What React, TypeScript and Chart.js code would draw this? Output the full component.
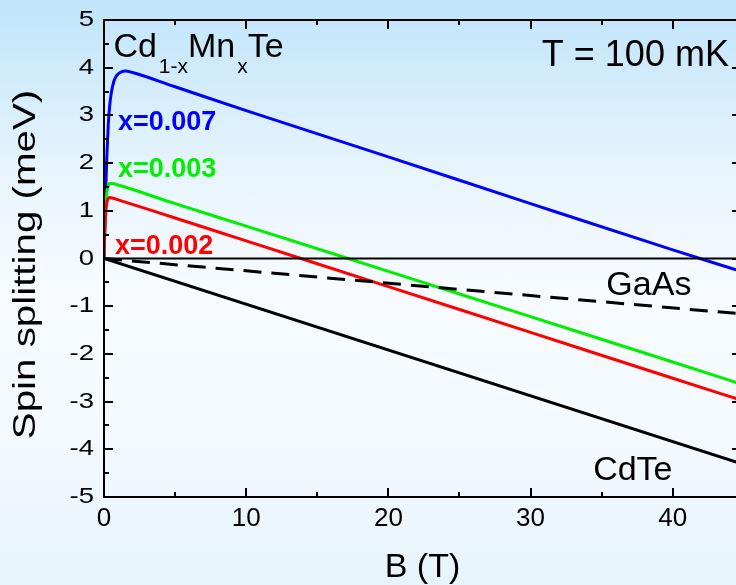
import React, { useEffect, useRef } from "react";
import { Chart, registerables } from "chart.js";

Chart.register(...registerables);

const FONT = '"Liberation Sans", Arial, Helvetica, sans-serif';

// Axis ranges and tick steps
const X_MIN = 0;
const X_MAX = 44.8;
const Y_MIN = -5;
const Y_MAX = 5;
const X_MAJOR = 10;
const X_MINOR = 5;
const Y_MAJOR = 1;
const Y_MINOR = 0.5;

// x = 0.007 (blue)
const bBlue = [0, 0.05, 0.1, 0.15, 0.2, 0.3, 0.4, 0.5, 0.7, 0.9, 1.2, 1.5, 2, 5, 10, 20, 30, 40, 44.8];
const sBlue = [0, 0.6, 1.2, 1.7, 2.15, 2.8, 3.2, 3.45, 3.72, 3.84, 3.91, 3.93, 3.9, 3.6, 3.1, 2.13, 1.15, 0.18, -0.27];

// x = 0.003 (green)
const bGreen = [0, 0.05, 0.1, 0.15, 0.2, 0.3, 0.4, 0.6, 1, 5, 10, 20, 30, 40, 44.8];
const sGreen = [0, 0.55, 0.95, 1.2, 1.38, 1.52, 1.57, 1.57, 1.54, 1.15, 0.68, -0.27, -1.22, -2.17, -2.63];

// x = 0.002 (red)
const bRed = [0, 0.05, 0.1, 0.15, 0.2, 0.3, 0.4, 0.6, 1, 5, 10, 20, 30, 40, 44.8];
const sRed = [0, 0.5, 0.85, 1.05, 1.17, 1.26, 1.28, 1.27, 1.23, 0.85, 0.37, -0.59, -1.55, -2.51, -2.97];

// GaAs (dashed) and CdTe (black)
const bGaAs = [0, 44.8];
const sGaAs = [0, -1.16];
const bCdTe = [0, 44.8];
const sCdTe = [0, -4.3];

// zero reference line
const bZero = [0, 44.8];
const sZero = [0, 0];

const pts = (bs: number[], ss: number[]) => bs.map((b, i) => ({ x: b, y: ss[i] }));

const framePlugin = {
  id: "frame",
  afterDatasetsDraw(chart: any) {
    const { ctx, chartArea: a, scales } = chart;
    const x = scales.x;
    const y = scales.y;
    ctx.save();
    ctx.strokeStyle = "#000";
    ctx.lineWidth = 2;
    ctx.strokeRect(a.left, a.top, a.right - a.left, a.bottom - a.top);
    ctx.beginPath();
    for (let v = Y_MIN; v <= Y_MAX + 1e-9; v += Y_MINOR) {
      const py = Math.round(y.getPixelForValue(v)) + 0.0;
      const major = Math.abs(v / Y_MAJOR - Math.round(v / Y_MAJOR)) < 1e-6;
      const len = major ? 9 : 5;
      ctx.moveTo(a.left, py);
      ctx.lineTo(a.left + len, py);
      ctx.moveTo(a.right, py);
      ctx.lineTo(a.right - len, py);
    }
    for (let v = X_MIN; v <= X_MAX + 1e-9; v += X_MINOR) {
      const px = Math.round(x.getPixelForValue(v));
      const major = Math.abs(v / X_MAJOR - Math.round(v / X_MAJOR)) < 1e-6;
      const len = major ? 9 : 5;
      ctx.moveTo(px, a.bottom);
      ctx.lineTo(px, a.bottom - len);
      ctx.moveTo(px, a.top);
      ctx.lineTo(px, a.top + len);
    }
    ctx.stroke();

    // y tick labels (slightly wide lettering, as in the original)
    ctx.fillStyle = "#000";
    ctx.font = `22px ${FONT}`;
    ctx.textAlign = "right";
    ctx.textBaseline = "middle";
    for (const t of y.ticks) {
      const py = y.getPixelForValue(t.value);
      ctx.save();
      ctx.translate(a.left - 10, py);
      ctx.scale(1.25, 1);
      ctx.fillText(t.label, 0, 0);
      ctx.restore();
    }

    // y axis title
    ctx.save();
    ctx.font = `31px ${FONT}`;
    ctx.textAlign = "center";
    ctx.textBaseline = "middle";
    ctx.translate(26, (a.top + a.bottom) / 2 + 6);
    ctx.rotate(-Math.PI / 2);
    ctx.scale(1.3, 1);
    ctx.fillText("Spin splitting (meV)", 0, 0);
    ctx.restore();
    ctx.restore();
  },
  afterDraw(chart: any) {
    const { ctx, scales } = chart;
    const X = (v: number) => scales.x.getPixelForValue(v);
    const Y = (v: number) => scales.y.getPixelForValue(v);
    ctx.save();
    ctx.textBaseline = "alphabetic";
    ctx.textAlign = "left";
    ctx.fillStyle = "#000";

    // Cd1-xMnxTe
    const big = `34px ${FONT}`;
    const small = `21px ${FONT}`;
    let cx = X(0.66);
    const by = Y(4.22);
    const sy = by + 15.5;
    const parts: [string, boolean][] = [["Cd", false], ["1-x", true], ["Mn", false], ["x", true], ["Te", false]];
    for (const [s, sub] of parts) {
      ctx.font = sub ? small : big;
      ctx.fillText(s, cx + (sub ? 2 : 0), sub ? sy : by);
      cx += ctx.measureText(s).width + (sub ? 2 : 0);
    }

    ctx.font = `36px ${FONT}`;
    ctx.textAlign = "right";
    ctx.fillText("T = 100 mK", X(43.95), Y(4.04));

    ctx.textAlign = "left";
    ctx.font = `34px ${FONT}`;
    ctx.fillText("GaAs", X(35.33), Y(-0.765));
    ctx.fillText("CdTe", X(34.4), Y(-4.64));

    ctx.font = `bold 27px ${FONT}`;
    ctx.fillStyle = "#0000ff";
    ctx.fillText("x=0.007", X(0.98), Y(2.69));
    ctx.fillStyle = "#00ee00";
    ctx.fillText("x=0.003", X(0.98), Y(1.71));
    ctx.fillStyle = "#ff0000";
    ctx.fillText("x=0.002", X(0.77), Y(0.09));
    ctx.restore();
  },
};

export default function App() {
  const ref = useRef<HTMLCanvasElement>(null);
  useEffect(() => {
    const line = (data: any, color: string, extra: any = {}) => ({
      data,
      borderColor: color,
      backgroundColor: color,
      borderWidth: 3,
      pointRadius: 0,
      fill: false,
      ...extra,
    });
    const chart = new Chart(ref.current as HTMLCanvasElement, {
      type: "line",
      data: {
        datasets: [
          line(pts(bZero, sZero), "#000", { borderWidth: 2 }),
          line(pts(bCdTe, sCdTe), "#000"),
          line(pts(bGaAs, sGaAs), "#000", { borderDash: [18, 10] }),
          line(pts(bRed, sRed), "#ff0000", { cubicInterpolationMode: "monotone" }),
          line(pts(bGreen, sGreen), "#00ee00", { cubicInterpolationMode: "monotone" }),
          line(pts(bBlue, sBlue), "#0000ff", { cubicInterpolationMode: "monotone" }),
        ] as any,
      },
      options: {
        responsive: false,
        animation: false,
        events: [],
        layout: { padding: { top: 20, right: 19, bottom: 0, left: 0 } },
        plugins: { legend: { display: false }, tooltip: { enabled: false } },
        scales: {
          x: {
            type: "linear",
            min: X_MIN,
            max: X_MAX,
            grid: { display: false, drawTicks: false },
            border: { display: false },
            ticks: {
              stepSize: X_MAJOR,
              includeBounds: false,
              color: "#000",
              padding: 6,
              maxRotation: 0,
              font: { family: FONT, size: 26 },
            },
            title: {
              display: true,
              text: "B (T)",
              color: "#000",
              font: { family: FONT, size: 34 },
              padding: { top: 0, bottom: -3 },
            },
            afterFit: (s: any) => {
              s.height = 88;
            },
          },
          y: {
            type: "linear",
            min: Y_MIN,
            max: Y_MAX,
            grid: { display: false, drawTicks: false },
            border: { display: false },
            ticks: { stepSize: Y_MAJOR, display: false },
            afterFit: (s: any) => {
              s.width = 104;
            },
          },
        },
      },
      plugins: [framePlugin],
    } as any);
    return () => chart.destroy();
  }, []);
  return (
    <div
      style={{
        position: "fixed",
        left: 0,
        top: 0,
        width: 736,
        height: 585,
        overflow: "hidden",
        background: "linear-gradient(to bottom, #c0e4fa 0%, #e8f5fd 30%, #f7fbff 50%, #f3f9fe 75%, #e6f4fc 100%)",
      }}
    >
      <canvas ref={ref} width={760} height={585} style={{ display: "block", width: 760, height: 585 }} />
    </div>
  );
}
